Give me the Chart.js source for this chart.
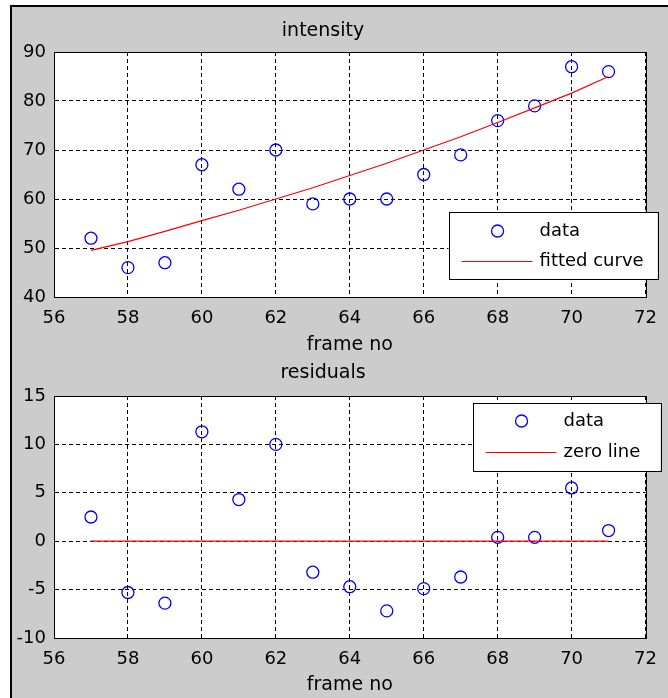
<!DOCTYPE html>
<html>
<head>
<meta charset="utf-8">
<script src="https://cdn.jsdelivr.net/npm/chart.js@4.4.1/dist/chart.umd.min.js"></script>
<style>
  html, body { margin: 0; padding: 0; background: #ffffff; }
  body { width: 668px; height: 698px; position: relative; overflow: hidden; }
  #panel { position: absolute; left: 10px; top: 5px; width: 660px; height: 700px;
           background: #cccccc; border-left: 2px solid #000; border-top: 2px solid #000; }
  canvas { position: absolute; left: 0; }
  #c1 { top: 0; }
  #c2 { top: 360px; }
</style>
</head>
<body>
<div id="panel"></div>
<canvas id="c1" width="668" height="360"></canvas>
<canvas id="c2" width="668" height="338"></canvas>
<script>
// ---- data ----
const frames = [57, 58, 59, 60, 61, 62, 63, 64, 65, 66, 67, 68, 69, 70, 71];
const intensity = [52, 46, 47, 67, 62, 70, 59, 60, 60, 65, 69, 76, 79, 87, 86];
const fittedCurve = [49.5, 51.3, 53.4, 55.6, 57.7, 60.0, 62.3, 64.8, 67.3, 70.0, 72.7, 75.6, 78.6, 81.6, 85.0];
const residuals = [2.5, -5.3, -6.4, 11.3, 4.3, 10.0, -3.2, -4.7, -7.2, -4.9, -3.7, 0.4, 0.4, 5.5, 1.1];
const zeroLineX = [57, 71];
const zeroLineY = [0, 0];
const xTicks = [56, 58, 60, 62, 64, 66, 68, 70, 72];
const topYTicks = [40, 50, 60, 70, 80, 90];
const bottomYTicks = [-10, -5, 0, 5, 10, 15];
const topTitle = 'intensity';
const bottomTitle = 'residuals';
const xLabel = 'frame no';
const topLegend = ['data', 'fitted curve'];
const bottomLegend = ['data', 'zero line'];

Chart.defaults.font.family = "'DejaVu Sans', sans-serif";
Chart.defaults.color = '#000';

const FONT_TICK = { family: "'DejaVu Sans', sans-serif", size: 18 };
const FONT_TEXT = { family: "'DejaVu Sans', sans-serif", size: 19, weight: 'normal' };
const DASH = [4, 3];

const pts = (xs, ys) => xs.map((x, i) => ({ x: x, y: ys[i] }));

const framePlugin = {
  id: 'axesFrame',
  beforeDraw(chart) {
    const a = chart.chartArea, ctx = chart.ctx;
    ctx.save();
    ctx.fillStyle = '#ffffff';
    ctx.fillRect(a.left, a.top, a.right - a.left, a.bottom - a.top);
    ctx.restore();
  },
  afterDatasetsDraw(chart) {
    const a = chart.chartArea, ctx = chart.ctx;
    ctx.save();
    ctx.strokeStyle = '#000';
    ctx.lineWidth = 1;
    ctx.setLineDash([]);
    ctx.strokeRect(Math.round(a.left) + 0.5, Math.round(a.top) + 0.5,
                   Math.round(a.right - a.left), Math.round(a.bottom - a.top));
    ctx.restore();
  }
};

const legendPlugin = {
  id: 'insideLegend',
  afterDraw(chart, args, opts) {
    const a = chart.chartArea, ctx = chart.ctx;
    const w = opts.width, h = opts.height;
    const left = a.right + opts.rightOut - w;
    const top = opts.anchor === 'bottom' ? a.bottom - opts.offsetY : a.top + opts.offsetY;
    ctx.save();
    ctx.fillStyle = '#fff';
    ctx.fillRect(left, top, w, h);
    ctx.strokeStyle = '#000';
    ctx.lineWidth = 1;
    ctx.setLineDash([]);
    ctx.strokeRect(Math.round(left) + 0.5, Math.round(top) + 0.5, w, h);
    const ds = chart.data.datasets;
    const rows = [opts.row1, opts.row2];
    const order = [1, 0];
    order.forEach((di, r) => {
      const d = ds[di];
      const y = top + rows[r];
      if (d.showLine === false) {
        ctx.beginPath();
        ctx.strokeStyle = d.borderColor;
        ctx.lineWidth = d.borderWidth;
        ctx.arc(left + 49, y, d.pointRadius, 0, Math.PI * 2);
        ctx.stroke();
      } else {
        ctx.beginPath();
        ctx.strokeStyle = d.borderColor;
        ctx.lineWidth = d.borderWidth;
        ctx.moveTo(left + 13, y + 0.5);
        ctx.lineTo(left + 84, y + 0.5);
        ctx.stroke();
      }
      ctx.fillStyle = '#000';
      ctx.font = '18px "DejaVu Sans", sans-serif';
      ctx.textBaseline = 'middle';
      ctx.textAlign = 'left';
      ctx.fillText(d.label, left + 91, y);
    });
    ctx.restore();
  }
};

function makeChart(id, cfg) {
  const ctx = document.getElementById(id).getContext('2d');
  return new Chart(ctx, {
    type: 'scatter',
    data: {
      datasets: [
        {
          label: cfg.lineLabel,
          data: cfg.lineData,
          showLine: true,
          borderColor: '#ff0000',
          backgroundColor: '#ff0000',
          borderWidth: 1.2,
          pointRadius: 0,
          tension: 0,
          order: 0
        },
        {
          label: cfg.dataLabel,
          data: cfg.pointData,
          showLine: false,
          borderColor: '#0000ff',
          backgroundColor: 'rgba(0,0,0,0)',
          borderWidth: 1.3,
          pointRadius: 6,
          pointStyle: 'circle',
          order: 1
        }
      ]
    },
    options: {
      responsive: false,
      animation: false,
      events: [],
      layout: { padding: { left: 0, right: 22, top: 0, bottom: 0 } },
      plugins: {
        legend: { display: false },
        tooltip: { enabled: false },
        title: {
          display: true,
          text: cfg.title,
          font: FONT_TEXT,
          color: '#000',
          padding: cfg.titlePadding
        },
        insideLegend: cfg.legend
      },
      scales: {
        x: {
          type: 'linear',
          min: 56, max: 72,
          afterBuildTicks: (s) => { s.ticks = xTicks.map(v => ({ value: v })); },
          afterFit: (s) => { s.height = cfg.xHeight; },
          ticks: { font: FONT_TICK, color: '#000', padding: 11, maxRotation: 0, autoSkip: false },
          grid: { color: '#000', lineWidth: 1, drawTicks: false, tickLength: 0,
                  borderDash: DASH, borderDashOffset: 0 },
          border: { display: true, color: '#000', width: 1, dash: DASH, dashOffset: 0 },
          title: { display: true, text: xLabel, font: FONT_TEXT, color: '#000',
                   padding: { top: 0, bottom: cfg.xTitleBottom } }
        },
        y: {
          type: 'linear',
          min: cfg.yTicks[0], max: cfg.yTicks[cfg.yTicks.length - 1],
          afterBuildTicks: (s) => { s.ticks = cfg.yTicks.map(v => ({ value: v })); },
          afterFit: (s) => { s.width = 54; },
          ticks: { font: FONT_TICK, color: '#000', padding: 8, autoSkip: false },
          grid: { color: '#000', lineWidth: 1, drawTicks: false, tickLength: 0,
                  borderDash: DASH, borderDashOffset: 0 },
          border: { display: true, color: '#000', width: 1, dash: DASH, dashOffset: 0 }
        }
      }
    },
    plugins: [framePlugin, legendPlugin]
  });
}

makeChart('c1', {
  title: topTitle,
  titlePadding: { top: 19.6, bottom: 9.6 },
  lineLabel: topLegend[1],
  dataLabel: topLegend[0],
  lineData: pts(frames, fittedCurve),
  pointData: pts(frames, intensity),
  yTicks: topYTicks,
  xHeight: 63,
  xTitleBottom: 3.6,
  legend: { width: 209, height: 67, rightOut: 12, anchor: 'bottom', offsetY: 85, row1: 19, row2: 49 }
});

makeChart('c2', {
  title: bottomTitle,
  titlePadding: { top: 1.5, bottom: 11.7 },
  lineLabel: bottomLegend[1],
  dataLabel: bottomLegend[0],
  lineData: pts(zeroLineX, zeroLineY),
  pointData: pts(frames, residuals),
  yTicks: bottomYTicks,
  xHeight: 60,
  xTitleBottom: 1.6,
  legend: { width: 188, height: 68, rightOut: 15, anchor: 'top', offsetY: 7, row1: 18, row2: 49 }
});
</script>
</body>
</html>
